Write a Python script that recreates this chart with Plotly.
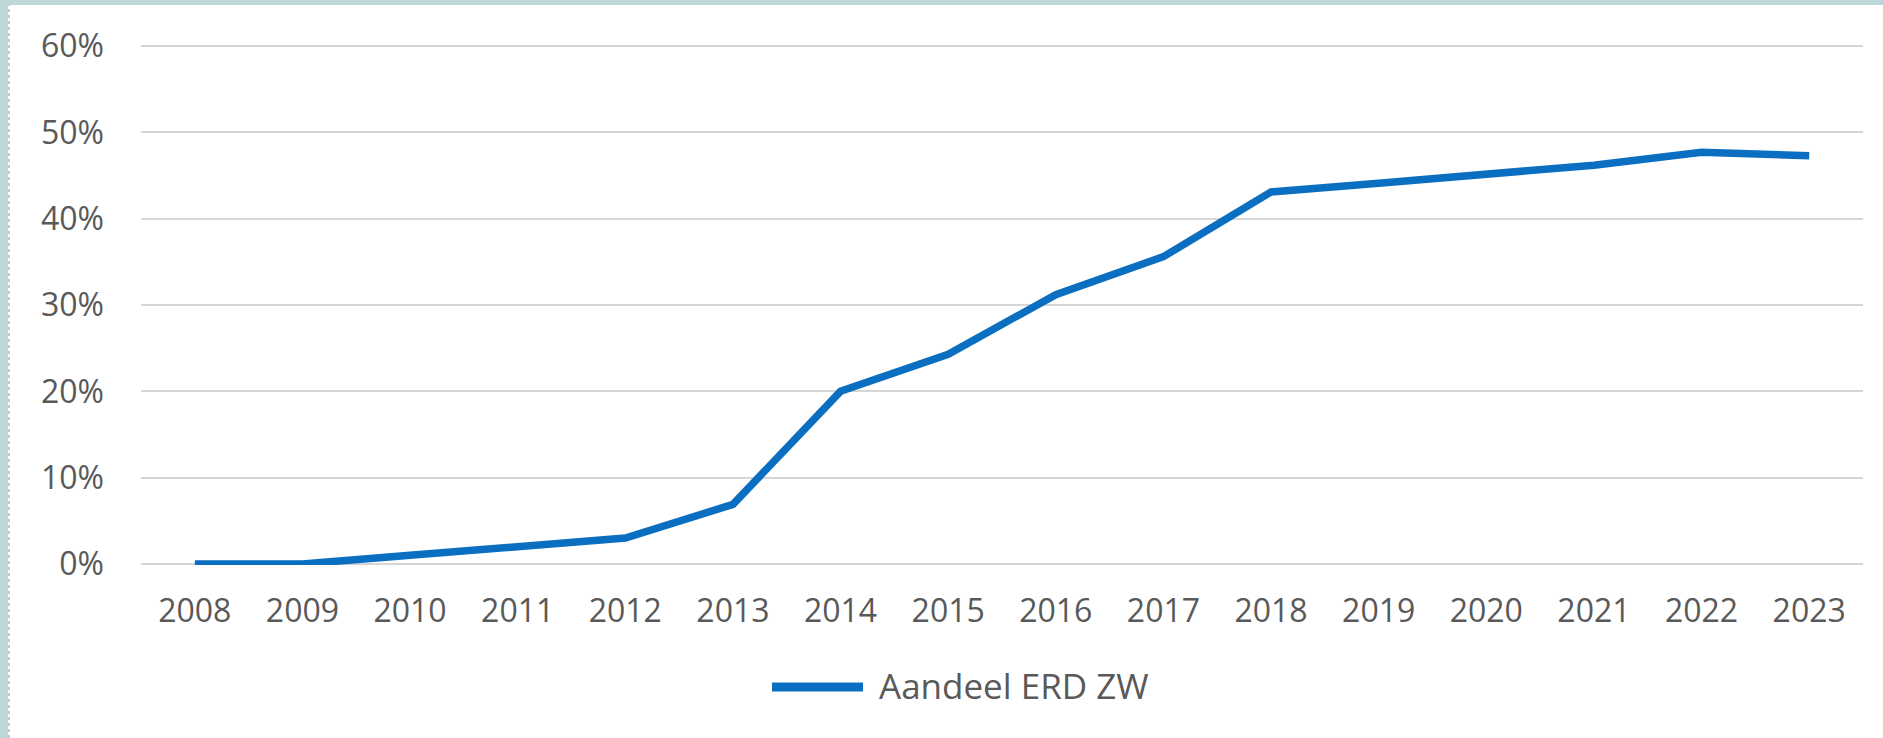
import plotly.graph_objects as go

years = ["2008", "2009", "2010", "2011", "2012", "2013", "2014", "2015",
         "2016", "2017", "2018", "2019", "2020", "2021", "2022", "2023"]
aandeel = [0.000, 0.000, 0.010, 0.020, 0.030, 0.069, 0.200, 0.243,
           0.312, 0.356, 0.431, 0.441, 0.451, 0.462, 0.477, 0.473]
y_ticks = [0, 0.1, 0.2, 0.3, 0.4, 0.5, 0.6]
series_name = "Aandeel ERD ZW"

W, H = 1883, 738
# pixel positions of 0% and 60% and plot left/right edges in the reference
Y0_PX, Y60_PX = 564, 46
X_LEFT, X_RIGHT = 141, 1863
EPS = 0.0012
ppu = (Y0_PX - Y60_PX) / 0.6
MT = Y60_PX - EPS * ppu
MB = H - (Y0_PX + EPS * ppu)
ML, MR = X_LEFT, W - X_RIGHT
PW, PH = W - ML - MR, H - MT - MB

def px_x(px):
    return (px - ML) / PW

def px_y(py):
    return (H - MB - py) / PH

BLUE = "#0A6FC0"
GREY_TXT = "#595959"
GRID = "#D6D6D6"
TEAL = "#BDD6D8"
FONT = "Open Sans"

fig = go.Figure()
fig.add_trace(go.Scatter(
    x=years, y=aandeel, mode="lines", name=series_name,
    line=dict(color=BLUE, width=7.5), showlegend=False,
))

shapes = [
    # teal frame (top and left)
    dict(type="rect", xref="paper", yref="paper", x0=px_x(0), x1=px_x(W),
         y0=px_y(5), y1=px_y(0), fillcolor=TEAL, line=dict(width=0), layer="above"),
    dict(type="rect", xref="paper", yref="paper", x0=px_x(0), x1=px_x(8),
         y0=px_y(H), y1=px_y(0), fillcolor=TEAL, line=dict(width=0), layer="above"),
    dict(type="line", xref="paper", yref="paper", x0=px_x(9), x1=px_x(9),
         y0=px_y(H), y1=px_y(5), line=dict(color="#C8C8C8", width=2, dash="dot")),
    # legend sample line
    dict(type="line", xref="paper", yref="paper", x0=px_x(772), x1=px_x(863),
         y0=px_y(687), y1=px_y(687), line=dict(color=BLUE, width=9)),
]

annotations = [
    dict(text=series_name, xref="paper", yref="paper", x=px_x(877), y=px_y(686),
         xanchor="left", yanchor="middle", showarrow=False,
         font=dict(family=FONT, size=35, color=GREY_TXT)),
]

fig.update_layout(
    width=W, height=H,
    margin=dict(l=ML, r=MR, t=MT, b=MB, pad=0),
    paper_bgcolor="white", plot_bgcolor="white",
    font=dict(family=FONT, size=32, color=GREY_TXT),
    shapes=shapes, annotations=annotations,
    showlegend=False,
)
fig.update_xaxes(
    type="category", range=[-0.5, len(years) - 0.5],
    showgrid=False, zeroline=False, showline=False, ticks="",
    ticklabelstandoff=24,
    tickfont=dict(family=FONT, size=32, color=GREY_TXT),
)
fig.update_yaxes(
    range=[-EPS, 0.6 + EPS], tickvals=y_ticks, tickformat=".0%",
    showgrid=True, gridcolor=GRID, gridwidth=2, zeroline=False, showline=False,
    ticks="", ticklabelstandoff=36,
    tickfont=dict(family=FONT, size=32, color=GREY_TXT),
)

fig.write_html("out.html", config={"displayModeBar": False},
               post_script="document.body.style.margin='0';")
